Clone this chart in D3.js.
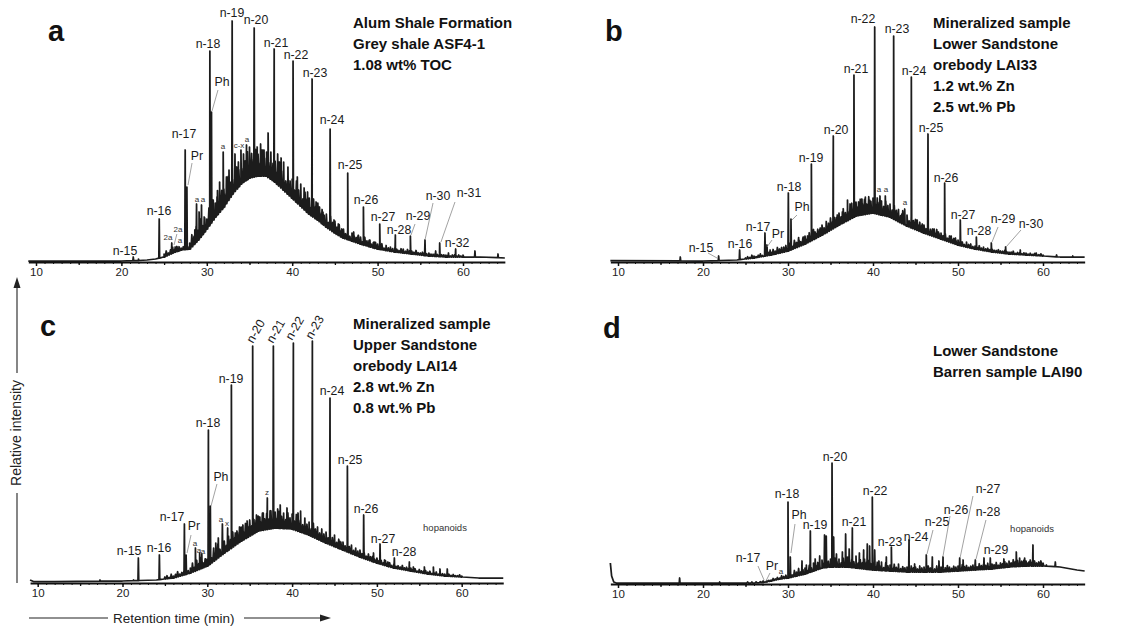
<!DOCTYPE html>
<html><head><meta charset="utf-8">
<script src="https://cdn.jsdelivr.net/npm/d3@7"></script>
<style>
body{margin:0;background:#fff}
svg{display:block}
text{font-family:"Liberation Sans",Arial,Helvetica,sans-serif}
</style>
</head><body>
<svg id="chart" width="1146" height="626"></svg>
<script>
// ---------------- DATA (retention time in min, intensity in arbitrary units) ----------------
const tickLabels = [10, 20, 30, 40, 50, 60];
const timeDomain = [9.1, 64.9];
// fine structure of the unresolved hump is read on a 0.25-min grid from 25 to 60 min
const rippleStart = 25, rippleStep = 0.25;

// Panel a — Alum Shale Formation, grey shale ASF4-1
const titleA = ["Alum Shale Formation", "Grey shale ASF4-1", "1.08 wt% TOC"];
const humpTimeA = [9.1, 20, 22, 23, 24, 25, 26, 27, 28, 29, 30, 31, 32, 33, 34, 35, 36, 37, 38, 39, 40, 41, 42, 43, 44, 45, 46, 47, 48, 50, 52, 54, 56, 58, 60, 62, 64.9];
const humpA     = [1, 1, 1.5, 2, 3, 5, 9, 12, 13, 22, 33, 45, 55, 68, 78, 84, 86, 86, 80, 72, 64, 56, 48, 42, 35, 29, 24, 21, 18, 13, 10, 8, 6, 5, 5, 5, 4];
const rippleA = [3,5,2,4,6,3,5,4,2,3,4,3,
  6,12,8,16,10,18,9,14, 10,18,8,20,14,24,12,19, 18,10,24,15,26,12,22,17, 25,14,20,28,16,24,18,27,
  22,13,26,18,24,15,25,17, 21,12,24,17,22,11,20,15, 19,10,21,14,20,9,18,13, 16,8,18,12,17,9,14,10,
  13,6,14,9,12,7,11,6, 9,5,10,4,8,6,5,8, 7,3,8,5,6,3,5,6, 5,3,6,2,5,3,4,3, 4,3,2,4,3,2,4,3,
  3,2,4,2,2,3,3,2, 3,2,2,3,2,3,2,2, 2,2,1,2,2,1,2,1,2];
const peaksA = [[21.39,5],[22.0,3],[24.43,43],[27.47,112],[27.67,75],[30.36,211],[30.55,150],[32.97,241],[35.55,234],[37.89,213],[40.1,201],[42.33,183],[44.44,133],[46.5,89],[48.34,55],[50.25,38],[52.08,27],[53.84,26],[55.55,22],[57.27,19],[59.14,13],
  [25.9,19],[26.3,15],[26.65,13],[28.6,32],[28.8,58],[29.1,50],[29.38,57],[29.7,45],[31.2,65],[31.5,80],[31.92,110],[32.3,85],[32.6,92],[33.3,108],[33.7,100],[34.0,112],[34.3,108],[34.65,117],[35.0,115],[35.9,115],[36.3,118],[36.7,112],[37.18,129],[37.5,110],[38.3,108],[38.7,104],[39.0,100],[39.5,95],[40.6,85],[41.0,78],[41.4,74],[41.8,70],[42.8,60],[43.2,55],[43.6,50],[44.9,42],[45.4,38],[45.8,33],[47.2,30],[47.7,26],[49.1,22],[49.6,20],[51.0,16],[51.5,15],[53.0,13],[56.8,11],[58.3,9],[61.4,11],[64.1,8]];
const annotA = [["n-15",20.42,7],["n-16",24.4,47],["n-17",27.33,124],["Pr",28.85,102],["n-18",30.14,214],["Ph",31.78,176],["n-19",32.95,245],["n-20",35.76,238],["n-21",38.1,215],["n-22",40.44,203],["n-23",42.67,185],["n-24",44.66,138],["n-25",46.77,93],["n-26",48.64,58],["n-27",50.63,41],["n-28",52.5,28],["n-29",54.73,42],["n-30",57.07,62],["n-31",60.7,65],["n-32",59.3,15],
  ["2a",25.46,22],["2a",26.63,30],["a",26.86,19],["a",28.85,60],["a",29.56,60],["a",31.9,113],["c-x",33.77,114],["a",34.71,120]];
const leadersA = [[28.27,99,27.8,77],[31.31,172,30.61,151],[54.38,38,53.91,27],[56.49,59,55.55,22],[59.06,60,57.42,20],[26.5,28,26.16,17]];

// Panel b — mineralized sample, Lower Sandstone orebody LAI33
const titleB = ["Mineralized sample", "Lower Sandstone", "orebody LAI33", "1.2 wt.% Zn", "2.5 wt.% Pb"];
const humpTimeB = [9.1, 20, 22, 24, 26, 28, 30, 32, 34, 36, 38, 40, 42, 44, 46, 48, 50, 52, 54, 56, 58, 60, 62, 64.9];
const humpB     = [1.5, 1, 1.5, 2, 4, 7, 11, 18, 27, 37, 46, 49, 45, 36, 29, 23, 17, 13, 10, 8, 7, 6, 5, 5];
const rippleB = [1,2,1,3,2,1,2,3,1,2,2,3,
  3,5,2,6,4,5,3,6, 4,7,3,8,5,9,4,7, 8,4,9,6,10,5,8,7, 10,6,11,8,12,7,10,9,
  12,7,14,9,13,8,15,10, 14,9,16,11,15,10,17,12, 15,10,16,12,14,9,15,11, 13,8,14,10,12,7,13,9,
  11,6,12,8,10,6,9,7, 8,5,9,6,7,4,8,5, 6,4,7,3,6,4,5,4, 5,3,4,2,4,3,4,2, 3,2,4,2,3,2,3,2,
  3,2,2,3,2,2,3,2, 2,2,3,1,2,2,1,2, 2,1,2,1,2,1,1,2,1];
const peaksB = [[17.33,5],[21.84,6],[24.31,12],[27.29,29],[27.53,17],[30.04,69],[30.35,43],[32.75,98],[35.33,126],[37.76,187],[40.2,235],[42.43,226],[44.51,185],[46.47,128],[48.43,79],[50.27,42],[52.16,25],[53.92,19],[55.6,15],
  [26.0,6],[27.9,12],[28.5,11],[29.0,13],[29.5,15],[31.3,22],[31.8,25],[32.3,26],[33.2,30],[33.8,34],[34.5,38],[35.8,47],[36.4,50],[37.0,62],[37.3,58],[38.3,60],[38.7,63],[39.1,65],[39.6,62],[40.82,66],[41.0,60],[41.45,66],[42.0,58],[43.0,52],[43.4,48],[43.73,53],[45.2,42],[45.8,38],[47.2,33],[47.7,30],[49.2,26],[49.7,24],[51.0,20],[51.5,18],[53.0,15],[57.33,12],[59.2,9],[61.6,7],[63.5,6]];
const annotB = [["n-15",19.76,10],["n-16",24.35,14],["n-17",26.47,31],["Pr",28.82,24],["n-18",30.12,71],["Ph",31.65,51],["n-19",32.71,100],["n-20",35.65,128],["n-21",38.0,189],["n-22",38.82,239],["n-23",42.82,229],["n-24",44.82,187],["n-25",46.82,130],["n-26",48.59,80],["n-27",50.59,43],["n-28",52.47,27],["n-29",55.29,39],["n-30",58.59,34],
  ["a",40.71,70],["a",41.53,70],["a",43.76,57]];
const leadersB = [[20.59,9,21.65,4],[28.12,22,27.53,15],[31.06,47,30.47,42],[54.71,35,54.0,20],[57.41,32,55.65,15]];

// Panel c — mineralized sample, Upper Sandstone orebody LAI14
const titleC = ["Mineralized sample", "Upper Sandstone", "orebody LAI14", "2.8 wt.% Zn", "0.8 wt.% Pb"];
const humpTimeC = [9.1, 9.5, 12, 20, 22, 24, 26, 28, 30, 32, 34, 36, 38, 40, 42, 44, 46, 48, 50, 52, 54, 56, 58, 60, 62, 64.9];
const humpC     = [3, 1.5, 1.5, 2, 2.5, 3, 5, 10, 17, 30, 42, 52, 55, 54, 48, 40, 33, 26, 20, 15, 12, 9, 7, 6, 5, 5];
const rippleC = [2,3,1,4,2,3,5,2,3,4,2,3,
  5,9,4,10,6,11,5,8, 7,12,5,13,8,14,7,11, 12,6,14,9,15,8,13,10, 14,8,15,11,16,9,14,12,
  15,9,17,11,16,10,18,12, 16,10,17,12,15,9,16,11, 15,9,16,11,14,8,15,10, 13,7,14,9,12,7,12,8,
  11,6,12,8,10,5,9,7, 8,5,9,6,8,4,7,5, 7,4,6,3,6,4,5,3, 5,3,4,2,5,3,4,2, 4,2,3,2,4,2,3,2,
  3,2,3,1,3,2,2,3, 2,3,1,2,3,1,2,2, 2,1,2,1,2,1,1,2,1];
const peaksC = [[21.87,25],[24.35,28],[27.3,59],[27.5,28],[30.13,153],[30.36,77],[32.84,198],[35.35,237],[37.79,237],[40.15,240],[42.39,242],[44.47,185],[46.52,117],[48.44,68],[50.37,39],[52.06,25],
  [17.35,3],[21.3,3],[25.8,7],[26.3,8],[28.6,35],[29.1,30],[29.35,29],[29.8,24],[31.0,40],[31.3,45],[31.78,59],[32.4,55],[33.3,50],[33.8,56],[34.2,58],[34.7,62],[35.8,68],[36.2,66],[36.6,70],[37.08,85],[37.4,72],[38.3,74],[38.6,78],[39.0,70],[39.4,75],[40.7,70],[41.0,72],[41.5,65],[42.0,60],[43.0,56],[43.5,53],[45.0,48],[45.6,42],[47.0,38],[47.5,35],[49.6,30],[50.9,23],[51.3,21],[53.83,21],[54.3,16],[55.6,16],[56.66,16],[57.44,14],[58.3,14]];
const annotC = [["n-15",20.77,28],["n-16",24.3,31],["n-17",25.84,62],["Pr",28.43,53],["n-18",30.08,156],["Ph",31.61,102],["n-19",32.8,200],["n-20",35.39,239],["n-21",37.75,239],["n-22",39.99,242],["n-23",42.35,243],["n-24",44.7,188],["n-25",46.83,119],["n-26",48.71,70],["n-27",50.72,40],["n-28",53.2,27],["hopanoids",58.03,52],
  ["a",31.62,61],["x",32.33,57],["a",28.55,37],["a",29.02,30],["a",29.49,29],["z",37.04,88]];
const leadersC = [[28.08,48,27.61,30],[31.14,99,30.44,77]];
const rotatedC = ["n-20", "n-21", "n-22", "n-23"];

// Panel d — Lower Sandstone barren sample LAI90
const titleD = ["Lower Sandstone", "Barren sample LAI90"];
const humpTimeD = [9.1, 9.25, 9.5, 9.8, 26, 27, 28, 29, 30, 31, 32, 33, 34, 35, 36, 37, 38, 40, 42, 44, 46, 48, 50, 52, 54, 56, 58, 60, 62, 64, 64.9];
const humpD     = [21, 8, 2, 1, 1, 1.5, 3, 5, 6, 8, 10, 13, 16, 17, 17, 17, 16, 14, 13, 12, 12, 12, 13, 14, 15, 17, 18, 18, 17, 14, 13];
const rippleD = [0,1,0,1,0,1,0,1,1,0,1,1,
  1,2,1,2,1,3,2,3, 3,5,2,6,4,7,3,5, 6,3,7,4,8,5,7,4, 8,5,9,6,8,5,9,6,
  8,4,9,6,10,5,8,6, 8,5,9,6,10,7,9,6, 7,4,8,5,7,3,8,5, 6,3,7,4,6,3,5,4,
  5,3,6,4,5,3,6,4, 5,3,6,4,5,3,6,4, 5,3,4,6,4,3,5,4, 5,3,6,4,5,3,4,5, 5,3,6,4,5,4,6,3,
  5,4,6,3,5,4,6,4, 6,4,7,5,6,4,5,6, 5,3,6,4,5,3,4,5,3];
const peaksD = [[17.25,6],[21.96,2],[27.1,3],[27.5,2],[29.2,7],[30.0,82],[30.27,27],[31.65,23],[32.16,19],[32.63,53],[33.2,25],[33.73,28],[34.3,49],[34.5,48],[35.18,121],[35.37,47],[35.7,30],[36.0,22],[36.4,32],[36.78,50],[37.2,35],[37.57,56],[38.0,28],[38.4,31],[38.9,34],[39.33,40],[39.6,38],[39.92,87],[40.2,34],[40.7,23],[41.0,22],[41.57,27],[42.16,37],[43.0,20],[44.24,44],[44.9,20],[45.5,18],[46.27,29],[46.98,27],[47.76,23],[48.24,27],[49.0,17],[50.2,26],[50.6,24],[52.04,24],[53.06,26],[53.8,26],[55.4,25],[56.86,32],[57.25,26],[57.84,26],[58.35,22],[58.82,39],[60.4,19],[61.45,22]];
const annotD = [["n-17",25.29,22],["Pr",28.12,14],["a",29.18,10],["n-18",29.88,86],["Ph",31.29,65],["n-19",33.18,55],["n-20",35.53,123],["n-21",37.76,58],["n-22",40.24,89],["n-23",42.0,38],["n-24",45.06,43],["n-25",47.53,58],["n-26",49.76,70],["n-27",53.53,91],["n-28",53.53,68],["n-29",54.47,30],["hopanoids",58.71,52]];
const leadersD = [[26.47,18,27.18,4],[27.88,11,27.41,3],[30.82,60,30.35,31],[47.06,54,46.35,30],[49.06,68,48.24,28],[51.76,88,50.24,26],[53.29,64,52.12,25]];

// ---------------- LAYOUT ----------------
const panels = [
  {letter:"a", x10:36,   ppm:8.54, base:262, title:titleA, tx:353, ty:28, ht:humpTimeA, hv:humpA, rip:rippleA, peaks:peaksA, ann:annotA, lead:leadersA, rot:[]},
  {letter:"b", x10:618,  ppm:8.5,  base:262, title:titleB, tx:933, ty:28, ht:humpTimeB, hv:humpB, rip:rippleB, peaks:peaksB, ann:annotB, lead:leadersB, rot:[]},
  {letter:"c", x10:37.7, ppm:8.48, base:583, title:titleC, tx:353, ty:329, ht:humpTimeC, hv:humpC, rip:rippleC, peaks:peaksC, ann:annotC, lead:leadersC, rot:rotatedC},
  {letter:"d", x10:618,  ppm:8.5,  base:584, title:titleD, tx:933, ty:356, ht:humpTimeD, hv:humpD, rip:rippleD, peaks:peaksD, ann:annotD, lead:leadersD, rot:[]}
];
const letterPos = {a:[48,41], b:[605,41], c:[40,336], d:[603,338]};

const svg = d3.select("#chart");

panels.forEach(p => {
  const g = svg.append("g");
  const x = d3.scaleLinear().domain(timeDomain)
      .range([p.x10 + (timeDomain[0]-10)*p.ppm, p.x10 + (timeDomain[1]-10)*p.ppm]);
  const y = d3.scaleLinear().domain([0, 240]).range([p.base, p.base - 240]);
  const hump = d3.scaleLinear().domain(p.ht).range(p.hv).clamp(true);

  // trace: hump knots + fine ripple + each peak as a narrow spike rising from the hump
  const pts = p.ht.map((t,i) => [t, p.hv[i]]);
  p.rip.forEach((r,i) => {
    const t = rippleStart + i*rippleStep, b = hump(t);
    pts.push([t-0.09, b], [t, b + r], [t+0.09, b]);
  });
  p.peaks.forEach(([t,h]) => {
    const b = hump(t);
    pts.push([t-0.045, b], [t, h], [t+0.045, b]);
  });
  pts.sort((a,b) => a[0]-b[0]);
  const line = d3.line().x(d => x(d[0])).y(d => y(d[1]));
  g.append("path").attr("d", line(pts))
    .attr("fill","none").attr("stroke","#1c1c1c").attr("stroke-width",1.75)
    .attr("stroke-linejoin","round");

  // axis
  const minor = g.append("g").attr("transform",`translate(0,${p.base})`)
    .call(d3.axisBottom(x).tickValues(d3.range(10,65,1)).tickSize(2).tickSizeOuter(0).tickFormat(""));
  minor.select(".domain").attr("stroke","#111").attr("stroke-width",2);
  minor.selectAll(".tick line").attr("stroke","#111").attr("stroke-width",1);
  const mid = g.append("g").attr("transform",`translate(0,${p.base})`)
    .call(d3.axisBottom(x).tickValues(d3.range(15,65,10)).tickSize(3).tickSizeOuter(0).tickFormat(""));
  mid.select(".domain").remove();
  mid.selectAll(".tick line").attr("stroke","#111").attr("stroke-width",1.3);
  const major = g.append("g").attr("transform",`translate(0,${p.base})`)
    .call(d3.axisBottom(x).tickValues(tickLabels).tickSize(4).tickPadding(2).tickSizeOuter(0));
  major.select(".domain").remove();
  major.selectAll(".tick line").attr("stroke","#111").attr("stroke-width",1.5);
  major.selectAll(".tick text").attr("font-size",11.5).attr("fill","#222")
    .attr("font-family",'"Liberation Sans",Arial,sans-serif');

  // leaders
  g.selectAll("line.lead").data(p.lead).join("line").attr("class","lead")
    .attr("x1",d=>x(d[0])).attr("y1",d=>y(d[1])).attr("x2",d=>x(d[2])).attr("y2",d=>y(d[3]))
    .attr("stroke","#8a8a8a").attr("stroke-width",0.8);

  // annotations
  p.ann.forEach(([txt,t,h]) => {
    const main = /^(n-|Pr|Ph)/.test(txt);
    const hop = txt === "hopanoids";
    const size = main ? 12.3 : (hop ? 9.5 : 8);
    const el = g.append("text").text(txt).attr("font-size",size)
      .attr("fill", main ? "#1a1a1a" : "#333");
    if (p.rot.includes(txt)) {
      el.attr("text-anchor","start").attr("transform",`translate(${x(t)},${y(h)}) rotate(-60)`);
    } else {
      el.attr("text-anchor","middle").attr("x",x(t)).attr("y",y(h));
    }
  });

  // panel letter
  g.append("text").text(p.letter).attr("x",letterPos[p.letter][0]).attr("y",letterPos[p.letter][1])
    .attr("font-size",29).attr("font-weight","bold").attr("fill","#111");
  // title block
  g.append("g").selectAll("text").data(p.title).join("text")
    .attr("x",p.tx).attr("y",(d,i)=>p.ty + i*21).text(d=>d)
    .attr("font-size",15).attr("font-weight","bold").attr("fill","#111");
});

// y-axis label with arrow
svg.append("text").text("Relative intensity").attr("font-size",14).attr("fill","#222")
  .attr("text-anchor","middle").attr("transform","translate(21,433) rotate(-90)");
svg.append("line").attr("x1",17).attr("x2",17).attr("y1",583).attr("y2",493).attr("stroke","#222").attr("stroke-width",1.1);
svg.append("line").attr("x1",17).attr("x2",17).attr("y1",373).attr("y2",286).attr("stroke","#222").attr("stroke-width",1.1);
svg.append("path").attr("d","M17,277 L13.5,288 L20.5,288 Z").attr("fill","#222");

// x-axis label with arrow
svg.append("text").text("Retention time (min)").attr("font-size",13.5).attr("fill","#222")
  .attr("x",113).attr("y",622.5);
svg.append("line").attr("x1",29).attr("x2",108).attr("y1",618).attr("y2",618).attr("stroke","#222").attr("stroke-width",1.1);
svg.append("line").attr("x1",244).attr("x2",322).attr("y1",618).attr("y2",618).attr("stroke","#222").attr("stroke-width",1.1);
svg.append("path").attr("d","M331,618 L320,614.5 L320,621.5 Z").attr("fill","#222");
</script>
</body></html>
